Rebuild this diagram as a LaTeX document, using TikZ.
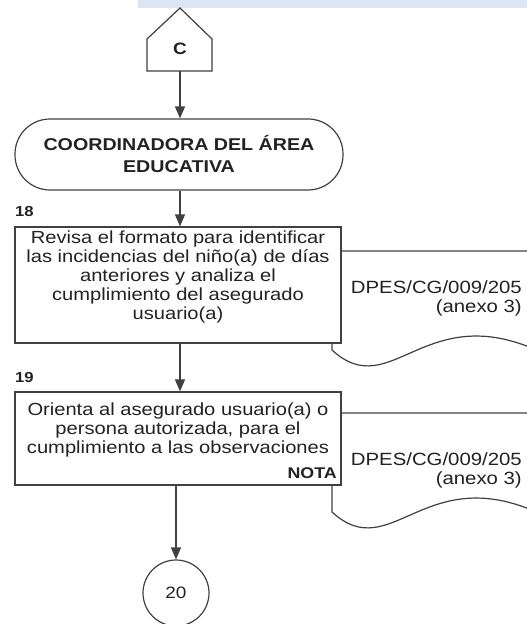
\documentclass[tikz,border=0pt]{standalone}
\usepackage{fontspec}
\setmainfont{Liberation Sans}[FakeStretch=1.15]
\usetikzlibrary{arrows.meta}
\definecolor{ln}{HTML}{404040}
\definecolor{tx}{HTML}{222222}
\definecolor{bar}{HTML}{DCE6F2}
\begin{document}
\begin{tikzpicture}[x=1pt,y=-1pt,
  line/.style={draw=ln, line width=1.2pt},
  arr/.style={draw=ln, line width=1.3pt, -{Triangle[width=10pt,length=12pt]}},
  box/.style={line, fill=white, minimum width=326pt, inner sep=0pt},
  txt/.style={text=tx, font=\fontsize{17.5}{19}\selectfont, align=center, inner sep=0pt},
  lbl/.style={text=tx, font=\bfseries\fontsize{14.5}{16}\selectfont, inner sep=0pt},
  doctxt/.style={text=tx, font=\fontsize{17.7}{19}\selectfont, align=right, inner sep=0pt, anchor=east}]
\useasboundingbox (0,0) rectangle (527,624);
\fill[bar] (138,0) rectangle (527,8);
% connector C
\draw[line, fill=white] (147,71) -- (147,39) -- (180,8) -- (212,39) -- (212,71) -- cycle;
\node[text=tx, font=\bfseries\fontsize{16.5}{18}\selectfont, inner sep=0pt] (C) at (180,49) {C};
\coordinate (pb) at (180,71);
% terminator
\node[line, rounded corners=35pt, minimum width=328pt, minimum height=71pt, inner sep=0pt,
      text=tx, font=\bfseries\fontsize{17.1}{22}\selectfont, align=center] (term) at (179,154.5)
      {COORDINADORA DEL ÁREA\\EDUCATIVA};
% documents
\draw[line, fill=white] (332,350) -- (332,251) -- (545,251) -- (545,354)
   .. controls (425,295) and (392,405) .. (332,350);
\draw[line, fill=white] (332,512) -- (332,413) -- (545,413) -- (545,516)
   .. controls (425,457) and (392,567) .. (332,512);
\node[doctxt] (d1) at (522,298) {DPES/CG/009/205\\(anexo 3)};
\node[doctxt] (d2) at (522,470) {DPES/CG/009/205\\(anexo 3)};
% step 18
\node[box, minimum height=116pt] (b18) at (178,285) {};
\node[txt] (t18) at (178,277) {Revisa el formato para identificar\\las incidencias del niño(a) de días\\anteriores y analiza el\\cumplimiento del asegurado\\usuario(a)};
\node[lbl, anchor=west] (n18) at (15,212) {18};
% step 19
\node[box, minimum height=93pt] (b19) at (178,438.5) {};
\node[txt] (t19) at (178,430) {Orienta al asegurado usuario(a) o\\persona autorizada, para el\\cumplimiento a las observaciones};
\node[lbl, anchor=west] (n19) at (15,378) {19};
\node[text=tx, font=\bfseries\fontsize{15.5}{17}\selectfont, inner sep=0pt, anchor=east] (nota) at (337,473) {NOTA};
% connector 20
\node[line, circle, minimum size=66pt, inner sep=0pt, text=tx, font=\fontsize{16.5}{18}\selectfont] (c20) at (176,593) {20};
% arrows
\draw[arr] (pb) -- (pb |- term.north);
\draw[arr] (term.south -| pb) -- (pb |- b18.north);
\draw[arr] (b18.south -| pb) -- (pb |- b19.north);
\draw[arr] (b19.south -| c20) -- (c20.north);
\end{tikzpicture}
\end{document}
